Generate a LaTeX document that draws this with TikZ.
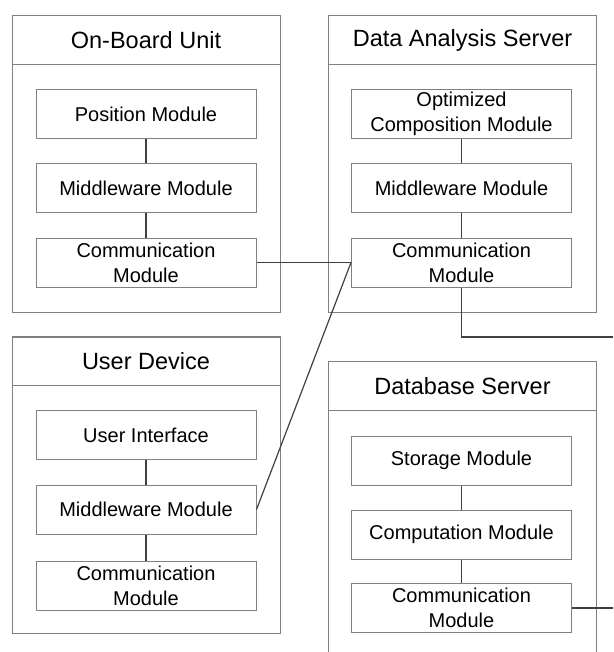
\documentclass[tikz,border=0pt]{standalone}
\usepackage{fontspec}
\setmainfont{Liberation Sans}
\usepackage{tikz}

\tikzset{
  unitbox/.style  ={draw=gray, line width=1pt, minimum width=268pt, minimum height=296pt, inner sep=0pt},
  unittitle/.style={draw=gray, line width=1pt, minimum width=268pt, minimum height=49pt, inner sep=0pt,
                    font=\fontsize{23.5}{26}\selectfont},
  module/.style   ={draw=gray, line width=1pt, minimum width=220pt, minimum height=49pt, inner sep=0pt,
                    align=center, font=\fontsize{20}{25}\selectfont},
  link/.style     ={draw=black!75, line width=1.2pt}
}

\begin{document}
\begin{tikzpicture}[x=1pt, y=-1pt]
        \useasboundingbox (0,0) rectangle (613,652);
        \clip (0,0) rectangle (613,652);
        % containers
        \node [unitbox]   (obu)      at (146,164)    {};                            %On-Board Unit
        \node [unittitle] (obutitle) at (146,40.5)   {On-Board Unit};               %
        \node [unitbox]   (das)      at (462.5,164)  {};                            %Data Analysis Server
        \node [unittitle] (dastitle) at (462.5,40.5) {Data Analysis Server};        %
        \node [unitbox]   (ud)       at (146,485)    {};                            %User Device
        \node [unittitle] (udtitle)  at (146,361)    {User Device};                 %
        \node [unitbox]   (db)       at (462.5,509)  {};                            %Database Server
        \node [unittitle] (dbtitle)  at (462.5,386)  {Database Server};             %
        % modules
        \node [module] (obupos)  at (146,114)     {Position Module};                %
        \node [module] (obumid)  at (146,188)     {Middleware Module};              %
        \node [module] (obucom)  at (146,262.5)   {Communication\\Module};          %
        \node [module] (dasopt)  at (461.5,114)   {Optimized\\Composition Module};  %
        \node [module] (dasmid)  at (461.5,188)   {Middleware Module};              %
        \node [module] (dascom)  at (461.5,262.5) {Communication\\Module};          %
        \node [module] (udui)    at (146,435)     {User Interface};                 %
        \node [module] (udmid)   at (146,509.5)   {Middleware Module};              %
        \node [module] (udcom)   at (146,586)     {Communication\\Module};          %
        \node [module] (dbsto)   at (461.5,460.5) {Storage Module};                 %
        \node [module] (dbcmp)   at (461.5,534.5) {Computation Module};             %
        \node [module] (dbcom)   at (461.5,608)   {Communication\\Module};          %
        \coordinate    (dasout)  at (620,337);                                      %
        \coordinate    (dbout)   at (620,608);                                      %
        % links
        \draw [link] (obupos) -- (obumid);   \draw [link] (obumid) -- (obucom);
        \draw [link] (dasopt) -- (dasmid);   \draw [link] (dasmid) -- (dascom);
        \draw [link] (udui)   -- (udmid);    \draw [link] (udmid)  -- (udcom);
        \draw [link] (dbsto)  -- (dbcmp);    \draw [link] (dbcmp)  -- (dbcom);
        \draw [link] (obucom.east) -- (dascom.west);                                %
        \draw [link] (udmid.east)  -- (dascom.west);                                %
        \draw [link] (dascom.south) |- (dasout);                                    %
        \draw [link] (dbcom.east)  -- (dbout);                                      %
\end{tikzpicture}
\end{document}
